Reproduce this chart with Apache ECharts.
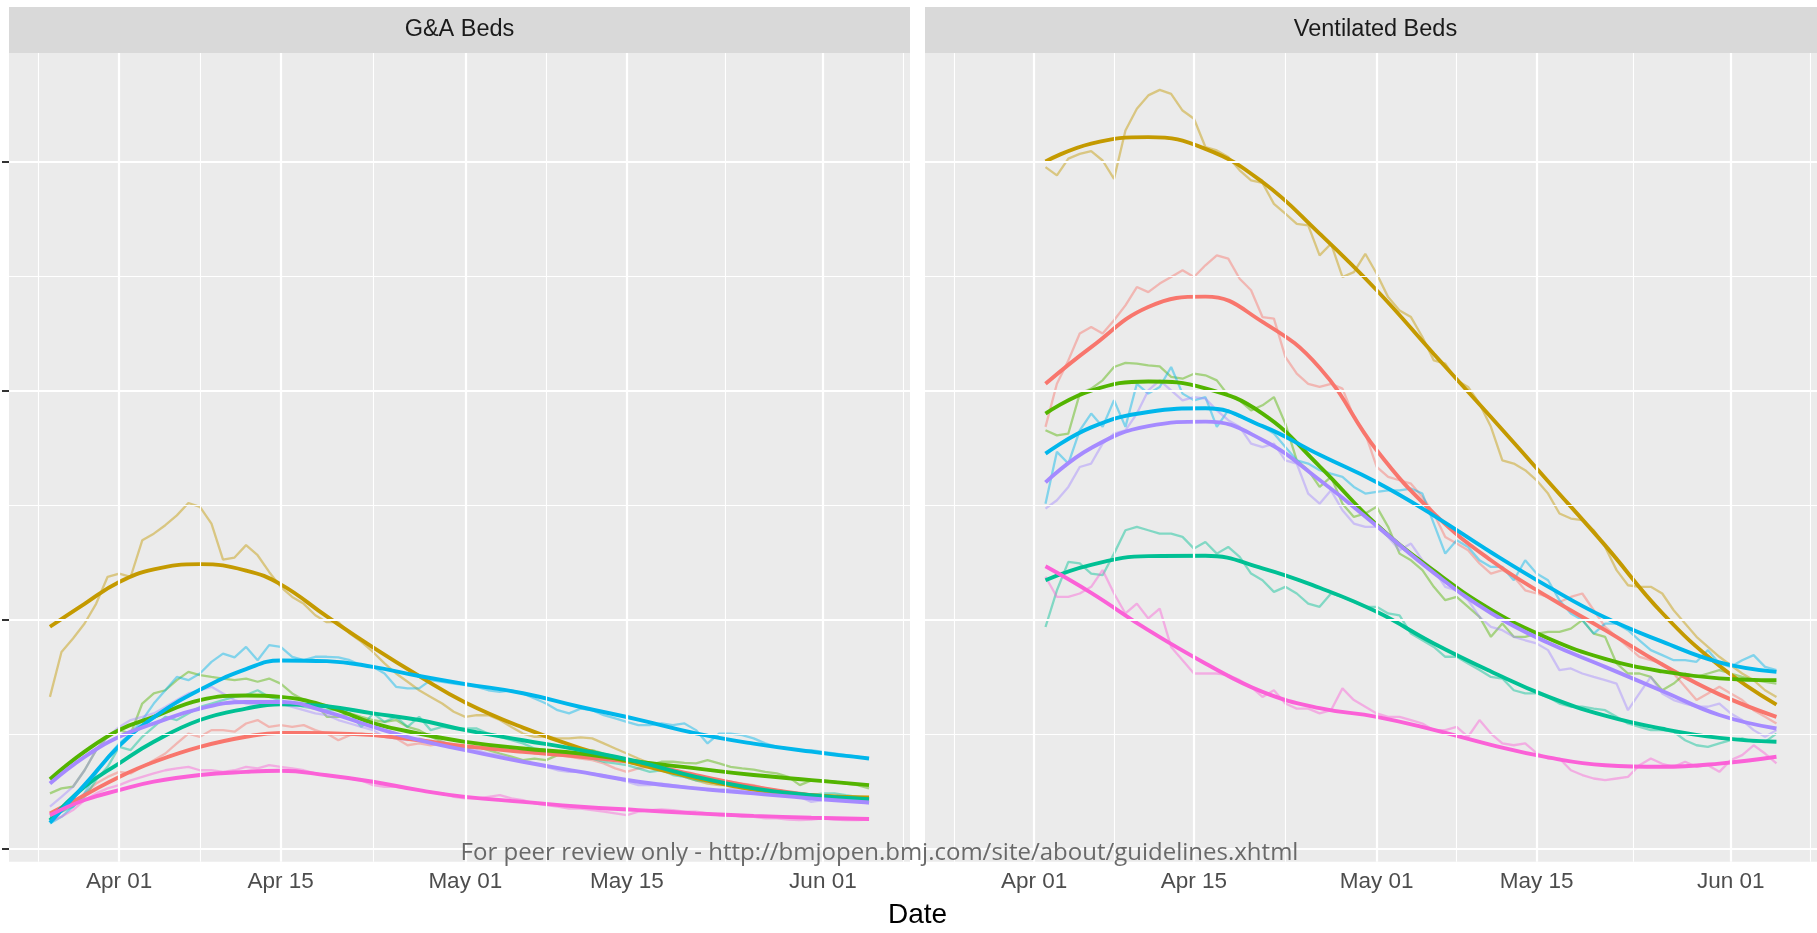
<!DOCTYPE html>
<html><head><meta charset="utf-8">
<script src="https://cdn.jsdelivr.net/npm/echarts@6/dist/echarts.min.js"></script>
<style>html,body{margin:0;padding:0;background:#fff}#c{width:1817px;height:933px}</style>
</head><body><div id="c"></div>
<script>
// ---------- data ----------
const panels = ['G&A Beds', 'Ventilated Beds'];
const groups = ['g1', 'g2', 'g3', 'g4', 'g5', 'g6', 'g7'];
const groupColors = ['#F8766D', '#C49A00', '#53B400', '#00C094', '#00B6EB', '#A58AFF', '#FB61D7'];

// daily raw series (G&A from 2020-03-26, Ventilated from 2020-04-02)
const gaStart = '2020-03-26';
const vbStart = '2020-04-02';
const endDate = '2020-06-05';

const gaRed = [14.8,16.3,19.9,24.3,28.6,31.5, 33.7,33,35.9,38.8,41.7,46.1,50.4,49,51.9,51.9, 51.2,54.8,56.3,53.3,54.1,53.3,54.1,51.9,50.4,47.5, 49.7,50.4,49.7,49,48.3,45.3,46.1,45.3,46.1,44.6, 43.9,44.6,44.6,43.9,44.6,43.2,41.7,41.7,41,40.3, 39.5,38.8,37.4,35.2,33.7,35.2,35.9,34.4,33.7,33, 31.5,30.8,30,29.4,28.6,27.9,26.5,25.7,24.3,22.8, 23.5,22.8,22.1,21.4,21.4,20.6];
const gaGold = [66.4,86,91.9,98.4,107,118.8, 120.2,118.8,134.7,137.6,141.3,145.6,151,149.3,142,126.3, 127.2,132.6,128.2,120.9,114.4,110,107,102,99,99, 94,90.4,86,81,76.6,73,69.3,66.4,63.5,59.9, 57.7,58.4,58.4,56.3,53.3,50.4,49,49,48.3,48.3, 48.7,48.3,46.1,43.9,41.7,39.5,37.4,35.2,33.7,31.5, 30,28.6,27.9,27.9,26.5,25.7,25,24.3,23.5,22.8, 22.8,23.5,23.1,22.5,22.1,21.4];
const gaGreen = [24.3,26.5,27.2,34.4,43.2,49, 51.9,50.4,63.5,67.9,69.3,73.7,77.3,75.9,75.1,74.4, 73.7,74.4,73,74.4,72.2,67.9,65,63.5,57.7,57.7, 59.2,57.7,56.3,55.5,56.3,53.3,51.9,49,46.8,44.6, 43.9,44.6,43.2,41.7,40.3,38.8,39.5,38.8,41,41.7, 41.7,43.2,41.7,40.3,38.1,37.4,36.6,38.1,38.1,37.6, 37.4,38.8,37.4,35.9,35.2,34.7,33.7,33,31.5,27.9, 30,30,29.4,28.6,27.9,26.5];
const gaTeal = [14.1,16.3,18.5,22.8,30.1,35.9, 44.6,43.2,49,53.3,57.7,56.3,59.2,62,63.5,65, 66.4,67.2,69.3,66.4,65,63.5,62,61.3,60.6,60.6, 59.2,53.3,59.2,55.5,57.7,53.3,57.7,51.9,53.3,52.6, 52.6,52.6,50.4,49,47.5,46.1,43.9,43.2,41.7,41.7, 40.3,39.5,38.1,37.4,36.6,35.2,33.7,34.4,32.3,31.5, 30,29.4,28.6,27.9,27.2,27.2,25.7,25.7,25,24.3, 23.5,24.3,24.3,23.5,22.8,22.1];
const gaBlue = [11.2,14.1,18.5,24.3,33,40.3, 46.1,50.4,56.3,63.5,69.3,75.1,73.7,76.6,81.7,85.3, 83.6,88.2,82.4,89,88.2,83.9,82.4,83.9,83.9,83.6, 82.4,80.2,79.5,76.6,70.8,70.1,70.1,73.7,73,72.2, 71.5,70.8,69.3,68.6,69.3,67.9,65.7,63.5,60.6,59.2, 61.3,60.6,58.4,57,55.5,54.1,54.1,54.8,54.1,54.8, 51.9,46.1,50.4,50.4,49.7,48.3,46.1,44.6,43.9,43.2, 43.2,42.4,41.7,41,40.3,39.5];
const gaPurple = [18.5,22.8,27.2,34.4,43.2,49, 53.3,56.3,57.7,59.2,62,65,67.9,69.3,70.8,67.9, 65,63.5,62.8,63.5,63.5,62,60.6,59.2,58.4,56.3, 54.8,53.3,51.9,49,48.3,47.5,48.3,46.8,46.8,45.3, 44.6,43.2,41.7,41,39.5,38.1,37.4,35.9,34.4,33.7, 33.7,33,32.3,30.8,29.4,27.9,27.9,28.6,27.9,27.2, 26.5,25.7,25.7,26.5,25.7,25,25,24.3,23.5,22.8, 20.6,21.4,22.1,21.4,20.6,19.9];
const gaPink = [11.9,14.1,17,21.4,24.3,26.5, 27.9,30,31.5,33,34.4,35.2,35.9,34.4,34.4,33.7, 34.4,35.9,35.2,36.6,35.9,35.2,34.4,33,32.3,31.5, 30.8,30,27.9,27.2,27.2,26.5,25.7,25,24.3,22.8, 22.1,22.1,22.8,23.5,22.1,21.4,19.9,19.2,18.5,17.7, 17.7,17,16.3,15.6,14.8,16.3,17,17.3,17,16.3, 16.3,15.6,14.8,14.8,14.1,14.1,13.4,13.4,12.9,12.6, 12.9,13.4,12.9,12.6,12.6,12.9];

const vbRed = [184.2,203,213.2,224.9,227.8,224.9,230.7,237.2,245.2,243, 246.7,249.6,252.5,249.6,254.7,259,257.6,248.8,243.8,232.1, 231.4,214.7,207.4,203,201.6,203,200.9,188.5,181.3,166.7, 162.4,160.9,159.4,153.6,146.4,136.2,133.3,130.4,124.6,120.2, 121.7,118.8,112.9,111.5,110,107.8,110,111.5,104.2,96.9, 92.6,88.2,83.9,82.4,81,76.6,70.8,65,67.9,70.8, 67.9,65,60.6,57.7,54.8];
const vbGold = [297.5,293.9,301.2,303.3,304.5,300.4,292.4,313.5,323,328.8, 331.2,329.5,322.2,318.6,306.3,304.8,301.9,296.1,291.7,290.6, 281.5,277.2,272.8,272.1,259,264.1,249.6,251.7,259.7,251, 240.8,235,232.1,223.4,213.2,211.8,204.5,201.6,194.3,184.2, 169.6,168.2,165.3,160.9,155.1,146.4,144.2,143.5,139.1,131.8, 121.7,115.1,114.4,114.4,111.5,104.2,98.4,92.6,88.2,83.9, 80.2,76.6,73.7,69.3,66.4];
const vbGreen = [182.7,180.5,181.3,198.7,200.9,204.5,210.3,212.1,211.8,211, 210.6,206,205.2,207.4,206.7,204.5,198,195.8,191.4,193.6, 197.2,185.6,169.6,165.3,158,162.4,150.7,144.9,146.4,149.3, 140.6,128.9,126,121.7,114.4,108.6,110,105.7,101.3,92.6, 98.4,92.6,92.6,94,94.8,94.8,96.2,99.9,94,92.6, 81,76.6,76.6,75.1,69.3,72.2,76.6,75.1,76.6,78.1, 76.6,75.1,73.7,73,72.2];
const vbTeal = [96.9,112.9,125.3,124.6,120.2,119.5,128.9,139.1,140.6,139.1, 137.6,137.6,136.2,131.1,134,128.9,131.8,127.5,120.2,117.3, 112.2,114.4,111.5,107.1,105.7,111.5,110,107.8,105.7,105.7, 102.8,102,94,91.1,88.2,83.9,83.9,81,78.1,75.1, 74.4,69.3,67.9,67.9,66.4,63.5,62.1,62.1,61.3,60.6, 57.7,54.8,53.3,51.9,51.9,51.2,47.5,45.3,44.6,46.1, 47.5,48.3,46.8,46.8,50.4];
const vbBlue = [150.7,173.3,168.2,182.7,190,184.2,195.8,184.2,203,198.7, 201.6,210.3,198.7,195.8,197.2,184.2,191.4,188.5,187.1,184.2, 181.3,175.4,169.6,168.2,165.3,163.8,162.4,158,155.1,155.8, 156.5,156.5,157.3,155.1,142,128.9,134.7,131.8,126,123.1, 123.1,117.3,126,120.2,117.3,108.6,102.8,99.9,94,98.4, 98.4,95.5,91.1,86.8,84.6,82.4,82.4,81.7,86.8,81, 79.5,82.4,84.6,79.5,78.1];
const vbPurple = [148.5,152.2,158,166.7,168.2,176.9,181.3,182.7,190,200.1, 204.5,200.1,195.8,197.2,196.5,191.4,187.1,184.2,176.9,175.4, 176.9,169.6,168.2,155.1,150.7,156.5,147.8,142,140.6,140.6, 136.2,130.4,133.3,126,121.7,114.4,112.9,108.6,101.3,96.9, 95.5,92.6,91.1,89.7,86.8,78.1,78.8,76.6,75.1,73.7, 72.2,60.6,67.9,75.1,67.9,65,63.5,62.1,62.1,63.5, 59.2,56.3,51.9,49,51.9];
const vbPink = [118.8,110,110,111.5,114.4,121.7,111.5,102.8,107.1,100.6, 104.9,88.2,82.4,76.6,76.6,76.6,75.9,73.7,70.8,66.4, 69.3,63.5,61.3,61.3,59.2,60.6,70.1,65,62.1,59.2, 57.7,57.7,56.3,54.8,51.9,51.9,53.3,49,56.3,50.4, 46.1,45.3,46.1,41.9,39.5,39.5,34.4,32.3,30.8,30.1, 30.8,31.5,36.6,39.5,37.2,35.9,38.1,35.9,36.6,33.7, 38.8,41,45.3,41.7,37.4];

// smoothed (loess) curves, read at sample dates
const gaSmoothDates = ['2020-03-26','2020-03-29','2020-04-01','2020-04-04','2020-04-08','2020-04-12','2020-04-15','2020-04-19','2020-04-23','2020-04-27','2020-05-01','2020-05-06','2020-05-11','2020-05-16','2020-05-21','2020-05-26','2020-05-31','2020-06-05'];
const gaRedS    = [15.5,23.5,31.5,38,44.6,49,50.7,50.6,49.7,47.5,44.9,42.4,40.3,37.4,32.3,27.2,23.5,21.4];
const gaGoldS   = [97,107,116.5,122,124.3,121.5,115.5,101.5,88,75.5,64,53,44,37,31,26,23.5,22.5];
const gaGreenS  = [30.5,42.5,52,57.7,65,67,66.4,62.3,55,50.4,46.8,43.9,41.7,38.1,35.2,32.3,30.1,27.9];
const gaTealS   = [12.6,27.2,37.4,46.8,56.3,61.3,63.2,62.3,59.2,56.3,51.9,47.5,43.2,38.1,31.5,26.5,23.5,21.8];
const gaBlueS   = [11.5,28,45,57.5,69.5,78.5,82.3,82,79.5,75.5,72,68,62,56.5,50.5,46,42.5,39.5];
const gaPurpleS = [28.6,40.2,49,54.8,61.3,64.2,64.2,59.9,53.3,47.5,43.2,38.1,33.7,29.4,26.5,24.3,22.1,20.3];
const gaPinkS   = [14.8,21.4,25.7,29.4,32.3,33.7,34.2,32.2,29.4,25.7,22.8,20.6,18.5,17,15.6,14.5,13.7,13.1];

const vbSmoothDates = ['2020-04-02','2020-04-06','2020-04-11','2020-04-16','2020-04-21','2020-04-26','2020-05-01','2020-05-06','2020-05-11','2020-05-16','2020-05-21','2020-05-26','2020-05-31','2020-06-05'];
const vbRedS    = [203,219,236.5,241,230,210,174,146.5,126,110,95.5,80.5,67.5,57.7];
const vbGoldS   = [300,307.8,310.6,305.5,291,268.5,243.8,216,188.5,160.5,132.5,103,80,63];
const vbGreenS  = [190,200,204,201,190,167,141.5,121.5,104.5,92,83,77.5,74.5,73.7];
const vbTealS   = [117.3,124,127.8,128,122.5,114,103.5,89.7,77.5,66.5,58.2,52.5,48.5,46.8];
const vbBlueS   = [172.5,184,190.7,192.3,184.5,172,160,145.5,129.5,114.5,101,90.5,81.5,77.3];
const vbPurpleS = [160,175,184.5,186.5,178.5,161,141,120.5,103,90,79.5,69,58.5,52.6];
const vbPinkS   = [123.4,111.8,95.5,81,68.6,61.5,57.7,52,45.5,40,36.6,35.9,37.3,40.3];

// axes
const tickDates  = ['2020-04-01','2020-04-15','2020-05-01','2020-05-15','2020-06-01'];
const tickLabels = ['Apr 01','Apr 15','May 01','May 15','Jun 01'];
const minorDates = ['2020-03-25','2020-04-08','2020-04-23','2020-05-08','2020-05-23T12:00','2020-06-08'];
const yMajor = [0, 100, 200, 300];
const yMinor = [50, 150, 250];
const yRange = [-5.5, 347.3];
const xTitle = 'Date';
const watermark = 'For peer review only - http://bmjopen.bmj.com/site/about/guidelines.xhtml';

// ---------- build ----------
function ts(s) { return Date.parse(s.length === 10 ? s + 'T00:00:00Z' : s + ':00Z'); }
const DAY = 86400000;
function daily(start, vals) { const t0 = ts(start); return vals.map((v, i) => [t0 + i * DAY, v]); }
function paired(dates, vals) { return dates.map((d, i) => [ts(d), vals[i]]); }

const raw = [
  [gaRed, gaGold, gaGreen, gaTeal, gaBlue, gaPurple, gaPink].map(a => daily(gaStart, a)),
  [vbRed, vbGold, vbGreen, vbTeal, vbBlue, vbPurple, vbPink].map(a => daily(vbStart, a))
];
const smooth = [
  [gaRedS, gaGoldS, gaGreenS, gaTealS, gaBlueS, gaPurpleS, gaPinkS].map(a => paired(gaSmoothDates, a)),
  [vbRedS, vbGoldS, vbGreenS, vbTealS, vbBlueS, vbPurpleS, vbPinkS].map(a => paired(vbSmoothDates, a))
];

const t0 = ts(gaStart), t1 = ts(endDate);
const pad = 0.05 * (t1 - t0);
const xMin = t0 - pad, xMax = t1 + pad;
const tickVals = tickDates.map(ts);
const minorVals = minorDates.map(ts);

const FONT = 'Liberation Sans, Arial, sans-serif';
const panelLeft = [9, 925];
const panelW = 901, panelTop = 53, panelH = 808.7;

const grid = [], xAxis = [], yAxis = [], series = [];
panels.forEach((p, i) => {
  grid.push({ left: panelLeft[i], top: panelTop, width: panelW, height: panelH,
    show: true, backgroundColor: '#EBEBEB', borderWidth: 0, containLabel: false });
  xAxis.push({ type: 'value', gridIndex: i, min: xMin, max: xMax, scale: true,
    axisLine: { show: false },
    splitLine: { show: false }, minorSplitLine: { show: false },
    axisTick: { show: true, length: 7, lineStyle: { color: '#333333', width: 2 }, customValues: tickVals },
    axisLabel: { show: true, customValues: tickVals, margin: 9, color: '#4D4D4D', fontSize: 22.5, fontFamily: FONT,
      formatter: v => { const k = tickVals.indexOf(v); return k >= 0 ? tickLabels[k] : ''; } }
  });
  yAxis.push({ type: 'value', gridIndex: i, min: yRange[0], max: yRange[1],
    axisLine: { show: false }, splitLine: { show: false },
    axisTick: { show: i === 0, length: 7, lineStyle: { color: '#333333', width: 2 }, customValues: yMajor },
    axisLabel: { show: false, customValues: yMajor }
  });
  const ml = [];
  yMinor.forEach(v => ml.push({ yAxis: v, lineStyle: { color: '#FFFFFF', width: 1.1, type: 'solid' } }));
  minorVals.forEach(v => ml.push({ xAxis: v, lineStyle: { color: '#FFFFFF', width: 1.1, type: 'solid' } }));
  yMajor.forEach(v => ml.push({ yAxis: v, lineStyle: { color: '#FFFFFF', width: 2.2, type: 'solid' } }));
  tickVals.forEach(v => ml.push({ xAxis: v, lineStyle: { color: '#FFFFFF', width: 2.2, type: 'solid' } }));
  series.push({ type: 'line', xAxisIndex: i, yAxisIndex: i, data: [], z: 1, silent: true,
    markLine: { silent: true, symbol: ['none', 'none'], label: { show: false }, emphasis: { disabled: true }, animation: false, data: ml } });
  groups.forEach((g, k) => {
    series.push({ name: g + '-raw-' + i, type: 'line', xAxisIndex: i, yAxisIndex: i, data: raw[i][k],
      showSymbol: false, symbol: 'none', z: 2, silent: true,
      lineStyle: { color: groupColors[k], width: 2.3, opacity: 0.45 } });
  });
  groups.forEach((g, k) => {
    series.push({ name: g + '-fit-' + i, type: 'line', xAxisIndex: i, yAxisIndex: i, data: smooth[i][k],
      showSymbol: false, symbol: 'none', smooth: 0.45, z: 3, silent: true,
      lineStyle: { color: groupColors[k], width: 3.9, opacity: 1 } });
  });
});

const graphic = [];
panels.forEach((p, i) => {
  graphic.push({ type: 'rect', left: panelLeft[i], top: 7, shape: { width: panelW, height: 46 },
    style: { fill: '#D9D9D9' }, silent: true, z: 5 });
  graphic.push({ type: 'text', x: panelLeft[i] + panelW / 2, y: 30, silent: true, z: 6,
    style: { text: p, fill: '#1A1A1A', font: '23.5px ' + FONT, textAlign: 'center', textVerticalAlign: 'middle' } });
});
graphic.push({ type: 'text', x: 917.5, y: 915, silent: true, z: 6,
  style: { text: xTitle, fill: '#000000', font: '28px ' + FONT, textAlign: 'center', textVerticalAlign: 'middle' } });
graphic.push({ type: 'text', x: 879.5, y: 853, silent: true, z: 100,
  style: { text: watermark, fill: 'rgba(90,90,90,0.9)', font: '24px Open Sans', textAlign: 'center', textVerticalAlign: 'middle' } });

const chart = echarts.init(document.getElementById('c'), null, { renderer: 'canvas' });
chart.setOption({ backgroundColor: '#FFFFFF', animation: false, grid, xAxis, yAxis, series, graphic });
</script></body></html>
